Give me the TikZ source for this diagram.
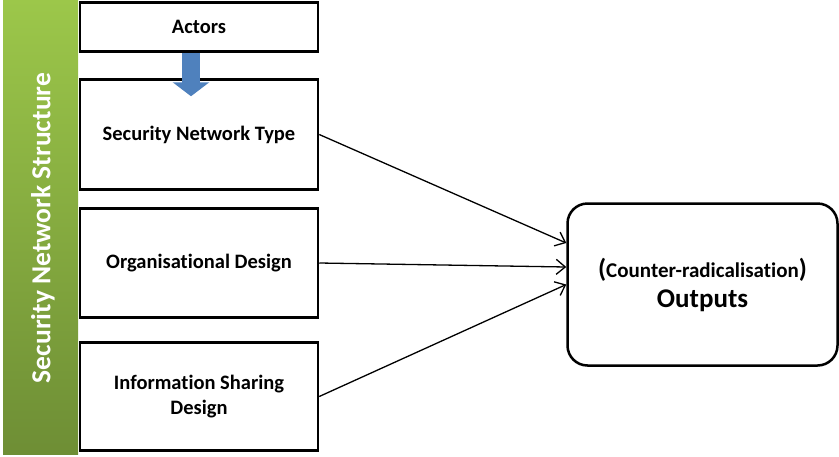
\documentclass[tikz,border=0pt]{standalone}
\usepackage{fontspec}
\setmainfont{Carlito}[Ligatures=NoCommon]
\usepackage{tikz}
\usetikzlibrary{positioning,arrows.meta,calc}
\definecolor{ink}   {HTML}{000000}
\definecolor{leaf}  {HTML}{9CC74A}
\definecolor{moss}  {HTML}{6E8E35}
\definecolor{steel} {HTML}{4F81BD}
\tikzset{
  % --- nodes
  part/.style    = {draw=ink, line width=2.5pt, fill=white, align=center, inner sep=0pt,
                    minimum width=238pt, font=\bfseries\fontsize{20.5}{25}\selectfont},
  result/.style  = {part, rounded corners=20pt, minimum width=270pt, minimum height=162pt,
                    font=\bfseries\fontsize{21}{30}\selectfont},
  bandtext/.style= {text=white, font=\bfseries\fontsize{27.5}{30}\selectfont, rotate=90},
  % --- edges
  e/.style       = {-{Straight Barb[length=9pt,width=15pt,line width=1.3pt]}, line width=1.3pt, draw=ink},
  feed/.style    = {line width=18pt, draw=steel, -{Triangle[length=14pt,width=36pt]}},
}
\begin{document}
\begin{tikzpicture}[x=1pt,y=-1pt]
  \useasboundingbox (0,0) rectangle (839,456);
  \shade[top color=leaf, bottom color=moss] (3,0) rectangle (78,454);
  \node[bandtext] (band) at (43,228) {Security Network Structure};

  \node[part, minimum height=49pt] (actors) at (199,27) {Actors};
  \node[part, minimum height=110pt, below=25.5pt of actors] (snt) {Security Network Type};
  \node[part, minimum height=109pt, below=16.5pt of snt] (org) {Organisational Design};
  \node[part, minimum height=108pt, below=22.5pt of org] (info) {Information Sharing\\Design};
  \node[result] (out) at (702.5,284.5)
    {{\fontsize{26}{30}\selectfont(}Counter-radicalisation{\fontsize{26}{30}\selectfont)}\\
     {\fontsize{27}{30}\selectfont Outputs}};

  \draw[feed] ([xshift=-8pt]actors.south) -- ([xshift=-8pt,yshift=-18pt]snt.north);
  \draw[e] (snt.east) -- ([yshift=41.5pt]out.west);
  \draw[e] (org.east) -- ([yshift=17.5pt]out.west);
  \draw[e] (info.east) -- (out.west);
\end{tikzpicture}
\end{document}
